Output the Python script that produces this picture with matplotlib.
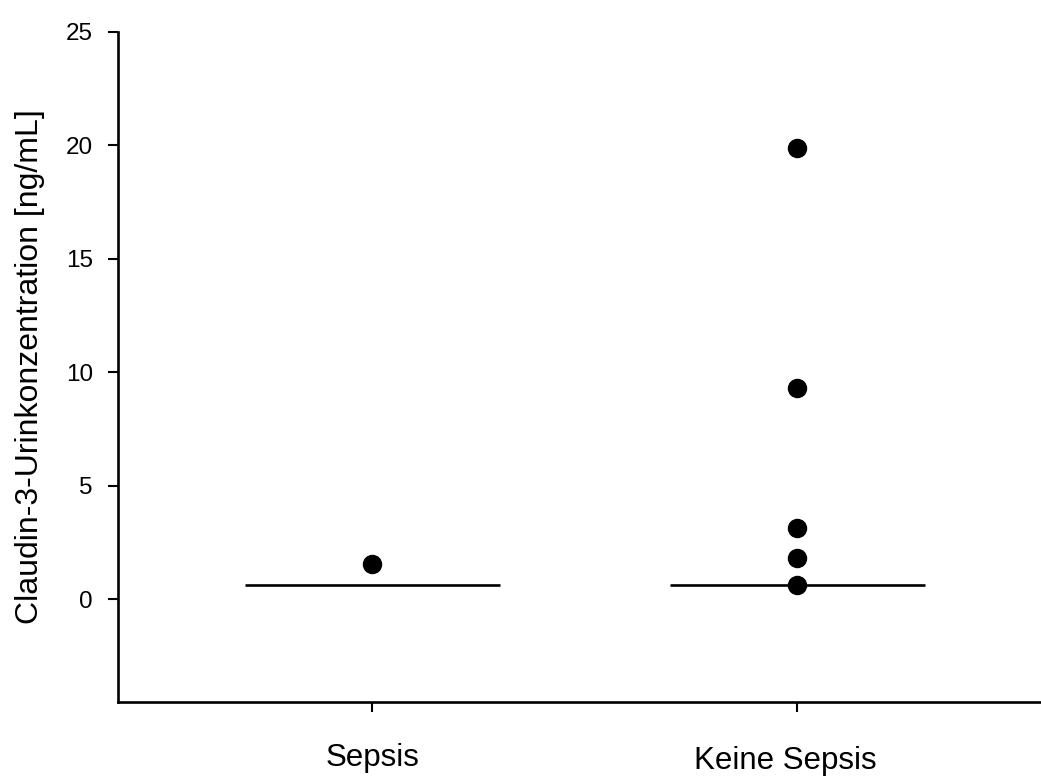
import matplotlib
matplotlib.use("Agg")
import matplotlib.pyplot as plt
import matplotlib.transforms as mtransforms

# Claudin-3 concentrations in urine, per group
groups = ["Sepsis", "Keine Sepsis"]
sepsis_values = [1.55]
no_sepsis_values = [19.9, 9.3, 3.15, 1.8, 0.6]
medians = [0.6, 0.6]

plt.rcParams["font.family"] = ["Liberation Sans", "DejaVu Sans"]

fig = plt.figure(figsize=(10.41, 7.78), dpi=100)
ax = fig.add_axes([0.1134, 0.0977, 0.8866, 0.8612])

positions = [1, 2]
for pos, vals in zip(positions, [sepsis_values, no_sepsis_values]):
    ax.plot([pos] * len(vals), vals, "o", color="black", markersize=13, zorder=3)

# median bars
half_width = 0.3
for pos, med in zip(positions, medians):
    ax.plot([pos - half_width, pos + half_width], [med, med], color="black",
            linewidth=1.9, solid_capstyle="butt", zorder=2)

ax.set_xlim(0.402, 2.574)
ax.set_ylim(-4.54, 25)
ax.set_yticks([0, 5, 10, 15, 20, 25])
ax.set_xticks(positions)
ax.set_xticklabels(groups)

for side in ["top", "right"]:
    ax.spines[side].set_visible(False)
for side in ["left", "bottom"]:
    ax.spines[side].set_linewidth(1.9)

ax.tick_params(axis="y", direction="out", length=7.2, width=1.5, labelsize=17.5, pad=11)
ax.tick_params(axis="x", direction="out", length=7.2, width=1.5, labelsize=22.5, pad=22)

# second group label sits a bit lower and to the left
labels = ax.get_xticklabels()
offset = mtransforms.ScaledTranslation(-12 / 100, -3 / 100, fig.dpi_scale_trans)
labels[1].set_transform(labels[1].get_transform() + offset)

ax.set_ylabel("Claudin-3-Urinkonzentration [ng/mL]", fontsize=23, labelpad=15)

fig.savefig("out.png", dpi=100)
